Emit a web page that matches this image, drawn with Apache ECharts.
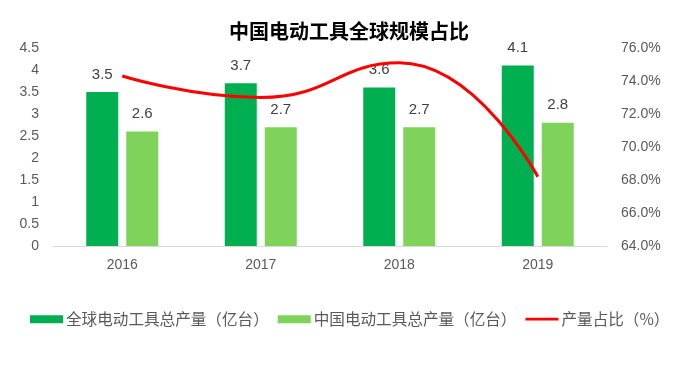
<!DOCTYPE html>
<html><head><meta charset="utf-8">
<script src="https://cdn.jsdelivr.net/npm/echarts@6/dist/echarts.min.js"></script>
<style>html,body{margin:0;padding:0;background:#fff}#c{width:698px;height:378px}</style>
</head><body><div id="c"></div>
<script>
const categories = ['2016', '2017', '2018', '2019'];
const globalOutput = [3.5, 3.7, 3.6, 4.1];
const chinaOutput = [2.6, 2.7, 2.7, 2.8];
const shareRatio = [74.3, 73.0, 75.1, 68.2];
const leftTicks = [0, 4.5, 0.5];
const rightTicks = [64, 76, 2];

const font = '"Noto Sans CJK SC", "Liberation Sans", sans-serif';
const chart = echarts.init(document.getElementById('c'));
chart.setOption({
  animation: false,
  textStyle: { fontFamily: font },
  title: {
    text: '中国电动工具全球规模占比',
    left: 'center', top: 16,
    textStyle: { fontSize: 20, fontWeight: 'bold', color: '#000', fontFamily: font }
  },
  grid: { left: 53, right: 91, top: 48, bottom: 132, containLabel: false },
  legend: {
    bottom: 46, left: 25,
    itemWidth: 33, itemHeight: 8, itemGap: 9,
    symbolKeepAspect: true,
    textStyle: { fontSize: 15.6, color: '#595959', fontFamily: font, padding: [0, 0, 0, -2] },
    data: [
      { name: '全球电动工具总产量（亿台）', icon: 'rect' },
      { name: '中国电动工具总产量（亿台）', icon: 'rect' },
      { name: '产量占比（%）', icon: 'path://M0,0H36V3H0Z' }
    ]
  },
  xAxis: {
    type: 'category', data: categories,
    axisLine: { lineStyle: { color: '#d9d9d9' } },
    axisTick: { show: false },
    axisLabel: { color: '#595959', fontSize: 14, margin: 12, fontFamily: '"Liberation Sans", sans-serif' }
  },
  yAxis: [
    {
      type: 'value', min: leftTicks[0], max: leftTicks[1], interval: leftTicks[2],
      splitLine: { show: false }, axisLine: { show: false }, axisTick: { show: false },
      axisLabel: { color: '#595959', fontSize: 14, margin: 14, fontFamily: '"Liberation Sans", sans-serif' }
    },
    {
      type: 'value', min: rightTicks[0], max: rightTicks[1], interval: rightTicks[2],
      splitLine: { show: false }, axisLine: { show: false }, axisTick: { show: false },
      axisLabel: { color: '#595959', fontSize: 14, margin: 14, fontFamily: '"Liberation Sans", sans-serif',
        formatter: v => v.toFixed(1) + '%' }
    }
  ],
  series: [
    {
      name: '全球电动工具总产量（亿台）', type: 'bar', data: globalOutput,
      barWidth: 32, barGap: '25%',
      itemStyle: { color: '#00b050' },
      label: { show: true, position: 'top', distance: 10, color: '#404040', fontSize: 15, fontFamily: '"Liberation Sans", sans-serif' }
    },
    {
      name: '中国电动工具总产量（亿台）', type: 'bar', data: chinaOutput,
      barWidth: 32,
      itemStyle: { color: '#7fd35a' },
      label: { show: true, position: 'top', distance: 10, color: '#404040', fontSize: 15, fontFamily: '"Liberation Sans", sans-serif' }
    },
    {
      name: '产量占比（%）', type: 'line', yAxisIndex: 1, data: shareRatio,
      smooth: 0.5, symbol: 'none',
      lineStyle: { color: '#ff0000', width: 3 },
      itemStyle: { color: '#ff0000' }
    }
  ]
});
</script></body></html>
